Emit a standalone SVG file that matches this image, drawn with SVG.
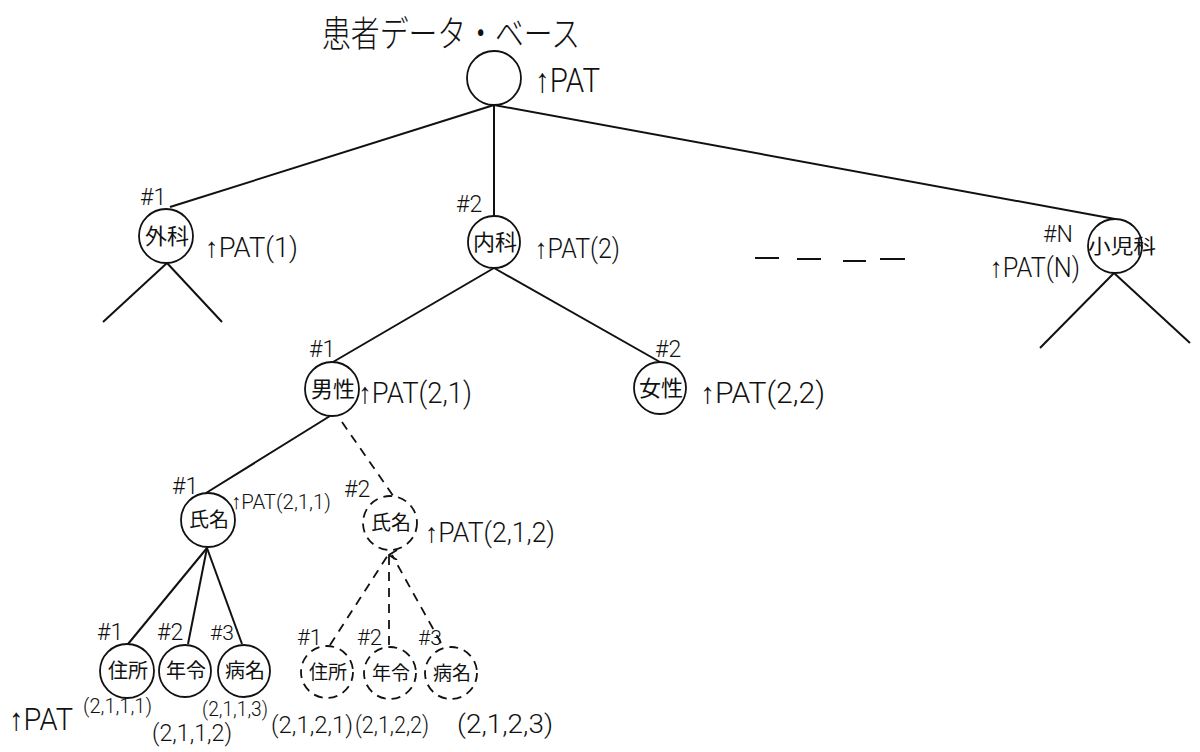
<svg xmlns="http://www.w3.org/2000/svg" width="1200" height="752" viewBox="0 0 1200 752">
<defs>
<style>
.bg{fill:#ffffff}
.c{fill:none;stroke:#111;stroke-width:1.8}
.cd{fill:none;stroke:#111;stroke-width:1.8;stroke-dasharray:9 6}
.l{stroke:#111;stroke-width:2;fill:none}
.ld{stroke:#111;stroke-width:1.8;fill:none;stroke-dasharray:9 7}
.jp{font-family:"Noto Sans CJK JP","Noto Sans CJK SC",sans-serif;fill:#111}
.lt{font-family:Roboto,"Liberation Sans",sans-serif;font-weight:300;fill:#111}
</style>
<marker id="ah" viewBox="0 0 10 10" refX="5" refY="1" markerWidth="10" markerHeight="10" markerUnits="userSpaceOnUse" orient="auto">
<path d="M0,9 L5,1 L10,9" fill="none" stroke="#111" stroke-width="1.8"/>
</marker>
</defs>
<rect class="bg" x="0" y="0" width="1200" height="752"/>

<g id="connectors">
<line class="l" x1="494" y1="105" x2="170" y2="207"/>
<line class="l" x1="494" y1="105" x2="494" y2="216"/>
<line class="l" x1="494" y1="105" x2="1115" y2="219"/>
<line class="l" x1="167" y1="263" x2="103" y2="322"/>
<line class="l" x1="167" y1="263" x2="222" y2="322"/>
<line class="l" x1="1114" y1="273" x2="1040" y2="348"/>
<line class="l" x1="1114" y1="273" x2="1190" y2="343"/>
<line class="l" x1="494" y1="268" x2="333" y2="362"/>
<line class="l" x1="494" y1="268" x2="660" y2="362"/>
<line class="l" x1="330" y1="416" x2="206" y2="493"/>
<line class="ld" x1="342" y1="422" x2="394" y2="497"/>
<line class="l" x1="207" y1="548" x2="128" y2="644"/>
<line class="l" x1="207" y1="548" x2="188" y2="644"/>
<line class="l" x1="207" y1="548" x2="242" y2="644"/>
<line class="ld" x1="330" y1="645" x2="388" y2="555"/>
<line class="ld" x1="389" y1="645" x2="389" y2="555" marker-end="url(#ah)"/>
<line class="ld" x1="441" y1="643" x2="392" y2="555"/>
<g class="l">
<line x1="755" y1="258" x2="779" y2="258"/>
<line x1="797" y1="259" x2="821" y2="259"/>
<line x1="843" y1="261" x2="866" y2="261"/>
<line x1="880" y1="259" x2="905" y2="259"/>
</g>
</g>

<g id="title">
<text class="jp" x="322" y="47" font-size="36" font-weight="300" textLength="258" lengthAdjust="spacingAndGlyphs">患者データ・ベース</text>
</g>

<g id="root">
<circle class="c" cx="494" cy="78" r="27"/>
<text class="lt" x="535" y="92" font-size="34" textLength="65" lengthAdjust="spacingAndGlyphs">↑PAT</text>
</g>

<g id="geka">
<circle class="c" cx="166" cy="236" r="27"/>
<text class="jp" x="167" y="244" font-size="22" text-anchor="middle">外科</text>
<text class="lt" x="140" y="205" font-size="23">#1</text>
<text class="lt" x="205" y="257" font-size="28" textLength="93" lengthAdjust="spacingAndGlyphs">↑PAT(1)</text>
</g>

<g id="naika">
<circle class="c" cx="494" cy="242" r="26"/>
<text class="jp" x="495" y="250" font-size="22" text-anchor="middle">内科</text>
<text class="lt" x="456" y="212" font-size="23">#2</text>
<text class="lt" x="535" y="258" font-size="28" textLength="85" lengthAdjust="spacingAndGlyphs">↑PAT(2)</text>
</g>

<g id="shonika">
<circle class="c" cx="1115" cy="246" r="27"/>
<text class="jp" x="1088" y="254" font-size="20" textLength="68" lengthAdjust="spacingAndGlyphs">小児科</text>
<text class="lt" x="1043" y="242" font-size="23">#N</text>
<text class="lt" x="990" y="277" font-size="28" textLength="90" lengthAdjust="spacingAndGlyphs">↑PAT(N)</text>
</g>

<g id="dansei">
<circle class="c" cx="332" cy="389" r="27"/>
<text class="jp" x="333" y="397" font-size="22" text-anchor="middle">男性</text>
<text class="lt" x="309" y="357" font-size="23">#1</text>
<text class="lt" x="358" y="403" font-size="29" textLength="114" lengthAdjust="spacingAndGlyphs">↑PAT(2,1)</text>
</g>

<g id="josei">
<circle class="c" cx="660" cy="388" r="26"/>
<text class="jp" x="661" y="396" font-size="22" text-anchor="middle">女性</text>
<text class="lt" x="655" y="357" font-size="23">#2</text>
<text class="lt" x="700" y="403" font-size="29" textLength="125" lengthAdjust="spacingAndGlyphs">↑PAT(2,2)</text>
</g>

<g id="shimei1">
<circle class="c" cx="208" cy="520" r="27"/>
<text class="jp" x="209" y="527" font-size="20" text-anchor="middle">氏名</text>
<text class="lt" x="172" y="494" font-size="23">#1</text>
<text class="lt" x="231" y="509" font-size="21" textLength="100" lengthAdjust="spacingAndGlyphs">↑PAT(2,1,1)</text>
</g>

<g id="shimei2">
<circle class="cd" cx="390" cy="523" r="27"/>
<text class="jp" x="391" y="530" font-size="20" text-anchor="middle">氏名</text>
<text class="lt" x="344" y="497" font-size="23">#2</text>
<text class="lt" x="425" y="542" font-size="27" textLength="130" lengthAdjust="spacingAndGlyphs">↑PAT(2,1,2)</text>
</g>

<g id="jusho1">
<circle class="c" cx="127" cy="671" r="27"/>
<text class="jp" x="128" y="678" font-size="20" text-anchor="middle">住所</text>
<text class="lt" x="97" y="640" font-size="23">#1</text>
<text class="lt" x="9" y="730" font-size="31" textLength="64" lengthAdjust="spacingAndGlyphs">↑PAT</text>
<text class="lt" x="83" y="713" font-size="21" textLength="69" lengthAdjust="spacingAndGlyphs">(2,1,1,1)</text>
</g>

<g id="nenrei1">
<circle class="c" cx="185" cy="671" r="26"/>
<text class="jp" x="186" y="678" font-size="20" text-anchor="middle">年令</text>
<text class="lt" x="157" y="640" font-size="23">#2</text>
<text class="lt" x="152" y="741" font-size="23" textLength="80" lengthAdjust="spacingAndGlyphs">(2,1,1,2)</text>
</g>

<g id="byomei1">
<circle class="c" cx="244" cy="671" r="26"/>
<text class="jp" x="245" y="678" font-size="20" text-anchor="middle">病名</text>
<text class="lt" x="210" y="640" font-size="21">#3</text>
<text class="lt" x="202" y="716" font-size="20" textLength="66" lengthAdjust="spacingAndGlyphs">(2,1,1,3)</text>
</g>

<g id="jusho2">
<circle class="cd" cx="327" cy="672" r="26"/>
<text class="jp" x="328" y="679" font-size="19" text-anchor="middle">住所</text>
<text class="lt" x="297" y="645" font-size="22">#1</text>
<text class="lt" x="271" y="733" font-size="24" textLength="82" lengthAdjust="spacingAndGlyphs">(2,1,2,1)</text>
</g>

<g id="nenrei2">
<circle class="cd" cx="390" cy="673" r="26"/>
<text class="jp" x="391" y="680" font-size="19" text-anchor="middle">年令</text>
<text class="lt" x="357" y="645" font-size="22">#2</text>
<text class="lt" x="355" y="733" font-size="24" textLength="74" lengthAdjust="spacingAndGlyphs">(2,1,2,2)</text>
</g>

<g id="byomei2">
<circle class="cd" cx="451" cy="673" r="26"/>
<text class="jp" x="452" y="680" font-size="19" text-anchor="middle">病名</text>
<text class="lt" x="418" y="645" font-size="21">#3</text>
<text class="lt" x="457" y="733" font-size="25" textLength="96" lengthAdjust="spacingAndGlyphs">(2,1,2,3)</text>
</g>
</svg>
